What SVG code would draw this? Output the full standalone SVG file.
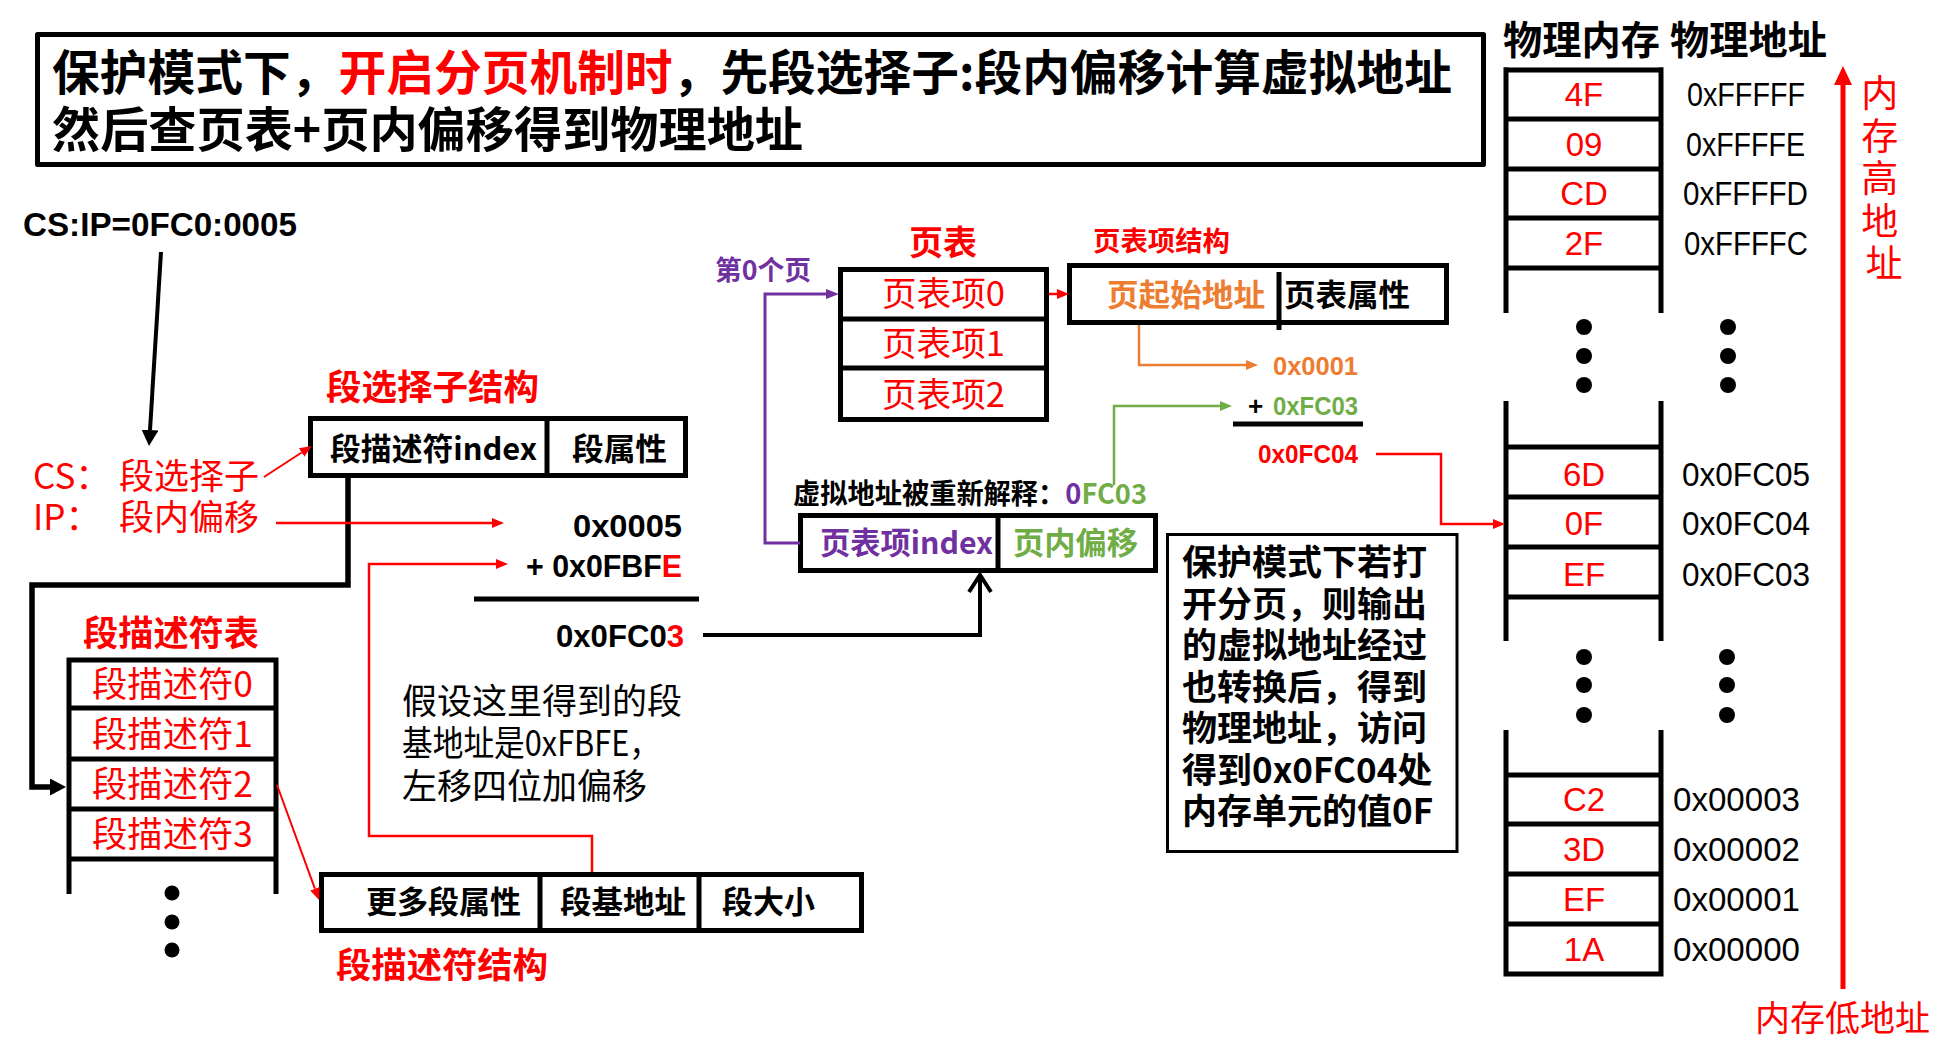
<svg xmlns="http://www.w3.org/2000/svg" width="1956" height="1064" viewBox="0 0 1956 1064">
<style>
text{font-family:"Noto Sans CJK SC","Noto Sans",sans-serif;fill:#000}
.b{font-weight:bold}
.lat{font-family:"Liberation Sans","Noto Sans CJK SC",sans-serif}
.r{fill:#FF0000}.o{fill:#ED7D31}.g{fill:#70AD47}.p{fill:#7030A0}.k{fill:#000}
.box{fill:#fff;stroke:#000;stroke-width:5}
.ln{stroke:#000;stroke-width:5;fill:none}
.mv{font-family:"Liberation Sans",sans-serif;font-size:33px;fill:#FF0000;text-anchor:middle}
.ad{font-family:"Liberation Sans",sans-serif;font-size:33px;fill:#000}
</style>
<defs>
<marker id="hR" markerUnits="userSpaceOnUse" markerWidth="12" markerHeight="10" viewBox="0 0 12 10" refX="0" refY="5" orient="auto"><path d="M0,0 L12,5 L0,10 z" fill="#FF0000"/></marker>
<marker id="hO" markerUnits="userSpaceOnUse" markerWidth="12" markerHeight="10" viewBox="0 0 12 10" refX="0" refY="5" orient="auto"><path d="M0,0 L12,5 L0,10 z" fill="#ED7D31"/></marker>
<marker id="hG" markerUnits="userSpaceOnUse" markerWidth="12" markerHeight="10" viewBox="0 0 12 10" refX="0" refY="5" orient="auto"><path d="M0,0 L12,5 L0,10 z" fill="#70AD47"/></marker>
<marker id="hP" markerUnits="userSpaceOnUse" markerWidth="13" markerHeight="10" viewBox="0 0 13 10" refX="0" refY="5" orient="auto"><path d="M0,0 L13,5 L0,10 z" fill="#7030A0"/></marker>
<marker id="hB" markerUnits="userSpaceOnUse" markerWidth="16" markerHeight="17" viewBox="0 0 16 17" refX="0" refY="8.5" orient="auto"><path d="M0,0 L16,8.5 L0,17 z" fill="#000"/></marker>
</defs>
<rect width="1956" height="1064" fill="#fff"/>

<g id="title">
<rect class="box" x="37.5" y="34.5" width="1446" height="130" stroke-linejoin="round"/>
<text class="b" x="52" y="90" font-size="48" textLength="1400" lengthAdjust="spacingAndGlyphs">保护模式下，<tspan class="r">开启分页机制时</tspan>，先段选择子:段内偏移计算虚拟地址</text>
<text class="b" x="52" y="147" font-size="48" textLength="751" lengthAdjust="spacingAndGlyphs">然后查页表+页内偏移得到物理地址</text>
</g>

<g id="cs-ip">
<text class="lat b" x="23" y="236" font-size="33" textLength="274" lengthAdjust="spacingAndGlyphs">CS:IP=0FC0:0005</text>
<text class="r" x="33" y="489" font-size="35">CS：</text>
<text class="r" x="119" y="489" font-size="35" textLength="140" lengthAdjust="spacingAndGlyphs">段选择子</text>
<text class="r" x="33" y="530" font-size="35">IP：</text>
<text class="r" x="119" y="530" font-size="35" textLength="140" lengthAdjust="spacingAndGlyphs">段内偏移</text>
</g>

<g id="selector-struct">
<text class="b r" x="326" y="400" font-size="35" textLength="213" lengthAdjust="spacingAndGlyphs">段选择子结构</text>
<rect class="box" x="310.5" y="418.5" width="375" height="57"/>
<line class="ln" x1="547" y1="418" x2="547" y2="476"/>
<text class="b" x="330" y="460" font-size="31" textLength="207" lengthAdjust="spacingAndGlyphs">段描述符index</text>
<text class="b" x="572" y="460" font-size="31" textLength="95" lengthAdjust="spacingAndGlyphs">段属性</text>
</g>

<g id="desc-table">
<text class="b r" x="83" y="646" font-size="35" textLength="176" lengthAdjust="spacingAndGlyphs">段描述符表</text>
<path class="ln" d="M69,657.5 V894 M276,657.5 V894 M69,660 H276 M69,708 H276 M69,759 H276 M69,809 H276 M69,859 H276"/>
<text class="r" x="92" y="697" font-size="35" textLength="161" lengthAdjust="spacingAndGlyphs">段描述符0</text>
<text class="r" x="92" y="747" font-size="35" textLength="161" lengthAdjust="spacingAndGlyphs">段描述符1</text>
<text class="r" x="92" y="797" font-size="35" textLength="161" lengthAdjust="spacingAndGlyphs">段描述符2</text>
<text class="r" x="92" y="847" font-size="35" textLength="161" lengthAdjust="spacingAndGlyphs">段描述符3</text>
<circle cx="172" cy="893" r="7.5"/><circle cx="172" cy="922" r="7.5"/><circle cx="172" cy="950" r="7.5"/>
</g>

<g id="desc-struct">
<rect class="box" x="321.5" y="874.5" width="540" height="56"/>
<path class="ln" d="M540,874 V931 M699,874 V931"/>
<text class="b" x="366" y="913" font-size="31" textLength="155" lengthAdjust="spacingAndGlyphs">更多段属性</text>
<text class="b" x="560" y="913" font-size="31" textLength="126" lengthAdjust="spacingAndGlyphs">段基地址</text>
<text class="b" x="722" y="913" font-size="31" textLength="93" lengthAdjust="spacingAndGlyphs">段大小</text>
<text class="b r" x="336" y="978" font-size="35" textLength="212" lengthAdjust="spacingAndGlyphs">段描述符结构</text>
</g>

<g id="sum-seg">
<text class="lat b" x="573" y="537" font-size="32" textLength="109" lengthAdjust="spacingAndGlyphs">0x0005</text>
<text class="lat b" x="526" y="577" font-size="32" textLength="156" lengthAdjust="spacingAndGlyphs">+ 0x0FBF<tspan class="r">E</tspan></text>
<line class="ln" x1="474" y1="599" x2="699" y2="599"/>
<text class="lat b" x="556" y="647" font-size="32" textLength="128" lengthAdjust="spacingAndGlyphs">0x0FC0<tspan class="r">3</tspan></text>
<text x="402" y="714" font-size="35" fill="#222">假设这里得到的段</text>
<text x="402" y="756" font-size="35" fill="#222" textLength="258" lengthAdjust="spacingAndGlyphs">基地址是0xFBFE，</text>
<text x="402" y="799" font-size="35" fill="#222">左移四位加偏移</text>
</g>

<g id="page-table">
<text class="p b" x="715" y="280" font-size="27" textLength="96" lengthAdjust="spacingAndGlyphs">第0个页</text>
<text class="r b" x="909" y="255" font-size="34" textLength="68" lengthAdjust="spacingAndGlyphs">页表</text>
<rect class="box" x="840.5" y="269.5" width="206" height="150"/>
<path class="ln" d="M840,319 H1047 M840,368 H1047"/>
<text class="r" x="882" y="306" font-size="34" textLength="123" lengthAdjust="spacingAndGlyphs">页表项0</text>
<text class="r" x="882" y="356" font-size="34" textLength="123" lengthAdjust="spacingAndGlyphs">页表项1</text>
<text class="r" x="882" y="407" font-size="34" textLength="123" lengthAdjust="spacingAndGlyphs">页表项2</text>
</g>

<g id="pte-struct">
<text class="r b" x="1093" y="251" font-size="27" textLength="137" lengthAdjust="spacingAndGlyphs">页表项结构</text>
<rect class="box" x="1069.5" y="265.5" width="377" height="57"/>
<line class="ln" x1="1279" y1="272" x2="1279" y2="330"/>
<text class="o b" x="1107" y="306" font-size="31" textLength="158" lengthAdjust="spacingAndGlyphs">页起始地址</text>
<text class="b" x="1284" y="306" font-size="31" textLength="126" lengthAdjust="spacingAndGlyphs">页表属性</text>
</g>

<g id="sum-page">
<text class="lat b o" x="1273" y="375" font-size="26" textLength="85" lengthAdjust="spacingAndGlyphs">0x0001</text>
<text class="lat b" x="1248" y="415" font-size="26">+</text>
<text class="lat b g" x="1273" y="415" font-size="26" textLength="85" lengthAdjust="spacingAndGlyphs">0xFC03</text>
<line class="ln" x1="1233" y1="424" x2="1363" y2="424"/>
<text class="lat b r" x="1258" y="463" font-size="26" textLength="100" lengthAdjust="spacingAndGlyphs">0x0FC04</text>
</g>

<g id="vaddr">
<text class="b" x="793" y="504" font-size="28" textLength="354" lengthAdjust="spacingAndGlyphs">虚拟地址被重新解释：<tspan class="p">0</tspan><tspan class="g">FC03</tspan></text>
<rect class="box" x="800.5" y="515.5" width="355" height="55"/>
<line class="ln" x1="998" y1="515" x2="998" y2="571"/>
<text class="p b" x="820" y="554" font-size="31" textLength="173" lengthAdjust="spacingAndGlyphs">页表项index</text>
<text class="g b" x="1013" y="554" font-size="31" textLength="125" lengthAdjust="spacingAndGlyphs">页内偏移</text>
</g>

<g id="note">
<rect x="1167.5" y="534.5" width="289.5" height="317" fill="#fff" stroke="#000" stroke-width="3"/>
<text class="b" font-size="35">
<tspan x="1182" y="575">保护模式下若打</tspan>
<tspan x="1182" y="616.5">开分页，则输出</tspan>
<tspan x="1182" y="658">的虚拟地址经过</tspan>
<tspan x="1182" y="699.5">也转换后，得到</tspan>
<tspan x="1182" y="741">物理地址，访问</tspan>
<tspan x="1182" y="782.5">得到0x0FC04处</tspan>
<tspan x="1182" y="824">内存单元的值0F</tspan>
</text>
</g>

<g id="memory">
<text class="b" x="1503" y="54" font-size="39" textLength="157" lengthAdjust="spacingAndGlyphs">物理内存</text>
<text class="b" x="1670" y="54" font-size="39" textLength="157" lengthAdjust="spacingAndGlyphs">物理地址</text>
<path class="ln" d="M1506,67.2 V313 M1661,67.2 V313 M1506,70 H1661 M1506,119 H1661 M1506,169 H1661 M1506,218 H1661 M1506,268 H1661"/>
<path class="ln" d="M1506,401 V641 M1661,401 V641 M1506,447 H1661 M1506,497 H1661 M1506,547 H1661 M1506,597 H1661"/>
<path class="ln" d="M1506,730 V976.5 M1661,730 V976.5 M1506,775 H1661 M1506,824 H1661 M1506,874 H1661 M1506,924 H1661 M1506,974 H1661"/>
<text class="mv" x="1584" y="106">4F</text>
<text class="mv" x="1584" y="155.5">09</text>
<text class="mv" x="1584" y="205">CD</text>
<text class="mv" x="1584" y="254.5">2F</text>
<text class="mv" x="1584" y="486">6D</text>
<text class="mv" x="1584" y="535">0F</text>
<text class="mv" x="1584" y="586">EF</text>
<text class="mv" x="1584" y="811">C2</text>
<text class="mv" x="1584" y="861">3D</text>
<text class="mv" x="1584" y="911">EF</text>
<text class="mv" x="1584" y="961">1A</text>
<text class="ad" x="1687" y="106" textLength="118" lengthAdjust="spacingAndGlyphs">0xFFFFF</text>
<text class="ad" x="1686" y="155.5" textLength="119" lengthAdjust="spacingAndGlyphs">0xFFFFE</text>
<text class="ad" x="1683" y="205" textLength="125" lengthAdjust="spacingAndGlyphs">0xFFFFD</text>
<text class="ad" x="1684" y="254.5" textLength="124" lengthAdjust="spacingAndGlyphs">0xFFFFC</text>
<text class="ad" x="1682" y="486" textLength="128" lengthAdjust="spacingAndGlyphs">0x0FC05</text>
<text class="ad" x="1682" y="535" textLength="128" lengthAdjust="spacingAndGlyphs">0x0FC04</text>
<text class="ad" x="1682" y="586" textLength="128" lengthAdjust="spacingAndGlyphs">0x0FC03</text>
<text class="ad" x="1673" y="811" textLength="127" lengthAdjust="spacingAndGlyphs">0x00003</text>
<text class="ad" x="1673" y="861" textLength="127" lengthAdjust="spacingAndGlyphs">0x00002</text>
<text class="ad" x="1673" y="911" textLength="127" lengthAdjust="spacingAndGlyphs">0x00001</text>
<text class="ad" x="1673" y="961" textLength="127" lengthAdjust="spacingAndGlyphs">0x00000</text>
<circle cx="1584" cy="327" r="8"/><circle cx="1584" cy="356" r="8"/><circle cx="1584" cy="385" r="8"/>
<circle cx="1728" cy="327" r="8"/><circle cx="1728" cy="356" r="8"/><circle cx="1728" cy="385" r="8"/>
<circle cx="1584" cy="657" r="8"/><circle cx="1584" cy="685" r="8"/><circle cx="1584" cy="715" r="8"/>
<circle cx="1727" cy="657" r="8"/><circle cx="1727" cy="685" r="8"/><circle cx="1727" cy="715" r="8"/>
<text class="r" font-size="37" text-anchor="middle">
<tspan x="1884" y="107">内</tspan>
<tspan x="1884" y="149.5">存</tspan>
<tspan x="1884" y="192">高</tspan>
<tspan x="1884" y="234.5">地</tspan>
<tspan x="1884" y="277">址</tspan>
</text>
<text class="r" x="1755" y="1031" font-size="35" textLength="175" lengthAdjust="spacingAndGlyphs">内存低地址</text>
</g>

<g id="connectors" fill="none">
<line x1="161" y1="252" x2="150" y2="430" stroke="#000" stroke-width="4" marker-end="url(#hB)"/>
<path d="M348,478 V585 H32 V787 H50" stroke="#000" stroke-width="5.5" marker-end="url(#hB)"/>
<line x1="264" y1="477" x2="301.6" y2="452.5" stroke="#FF0000" stroke-width="2" marker-end="url(#hR)"/>
<line x1="276" y1="523" x2="492" y2="523" stroke="#FF0000" stroke-width="2.5" marker-end="url(#hR)"/>
<path d="M592,872 V836 H369 V564 H496" stroke="#FF0000" stroke-width="2.5" marker-end="url(#hR)"/>
<line x1="277" y1="785" x2="314.9" y2="888.7" stroke="#FF0000" stroke-width="2" marker-end="url(#hR)"/>
<path d="M703,635 H980 V575" stroke="#000" stroke-width="4"/>
<polyline points="969,592 980,575 991,592" stroke="#000" stroke-width="4"/>
<path d="M800,543 H765 V294 H826" stroke="#7030A0" stroke-width="3" marker-end="url(#hP)"/>
<line x1="1049" y1="294" x2="1057" y2="294" stroke="#FF0000" stroke-width="2.5" marker-end="url(#hR)"/>
<path d="M1139,325 V365 H1246" stroke="#ED7D31" stroke-width="2.5" marker-end="url(#hO)"/>
<path d="M1114,485 V406 H1220" stroke="#70AD47" stroke-width="2.5" marker-end="url(#hG)"/>
<path d="M1376,454 H1441 V524 H1493" stroke="#FF0000" stroke-width="2.5" marker-end="url(#hR)"/>
<line x1="1843" y1="989" x2="1843" y2="82" stroke="#FF0000" stroke-width="5"/>
<polygon points="1843,66 1852,85 1834,85" fill="#FF0000"/>
</g>
</svg>
